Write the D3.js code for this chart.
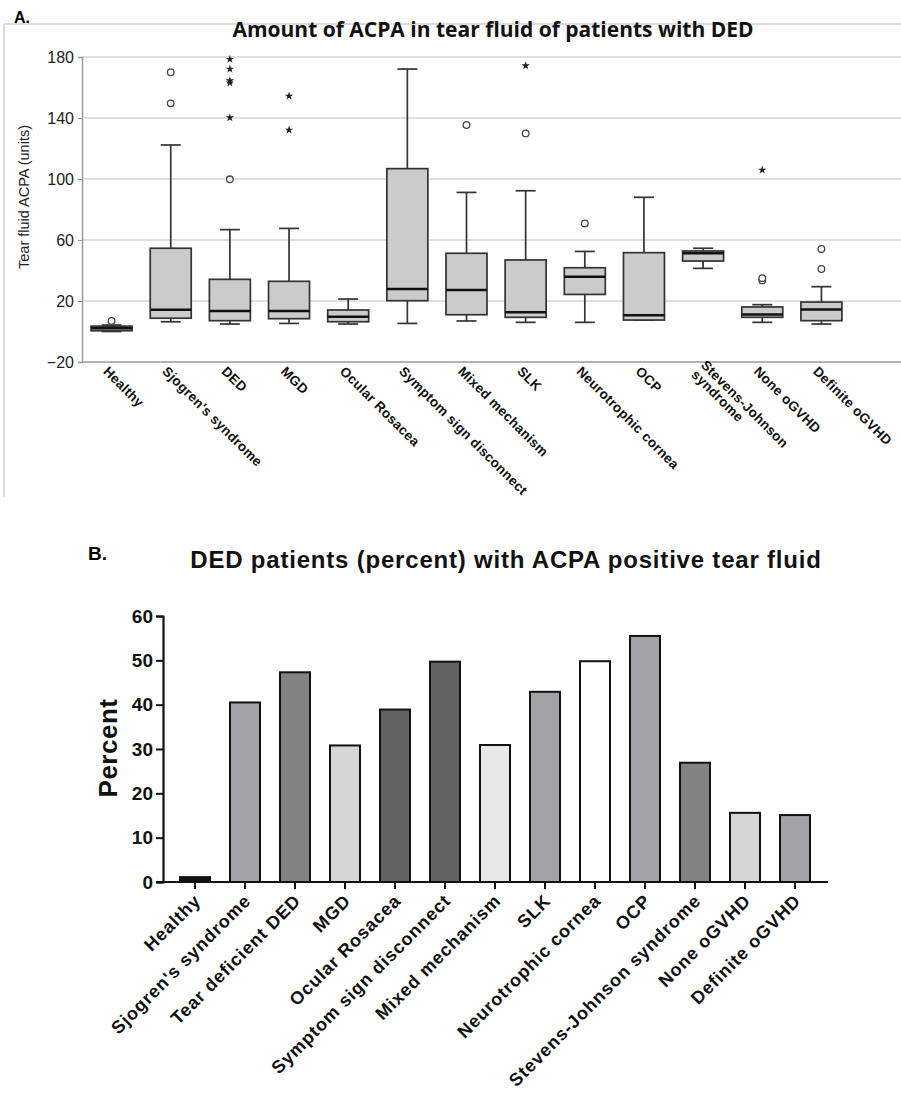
<!DOCTYPE html>
<html><head><meta charset="utf-8">
<script src="https://cdn.jsdelivr.net/npm/d3@7"></script>
<style>body{margin:0;background:#fff}svg{display:block}</style>
</head><body>
<script>
// ---------- Panel A data ----------
const catsA = ["Healthy","Sjogren's syndrome","DED","MGD","Ocular Rosacea","Symptom sign disconnect","Mixed mechanism","SLK","Neurotrophic cornea","OCP","Stevens-Johnson syndrome","None oGVHD","Definite oGVHD"];
const whiskerLowA  = [0,   6.4, 4.9, 5.3, 4.9, 5.3,  6.9, 6.0, 6.0, 7.5, 41.4, 6.0, 4.9];
const q1A          = [0.5, 8.7, 7.1, 8.4, 6.4, 20.2, 11.0, 9.3, 24.3, 7.5, 46.2, 9.3, 7.1];
const medianA      = [2.2, 14.3, 13.4, 13.4, 9.7, 27.9, 27.2, 12.6, 35.9, 10.6, 51.3, 11.2, 14.5];
const q3A          = [3.5, 54.6, 34.2, 32.9, 14.1, 106.8, 51.3, 46.9, 41.8, 51.7, 52.8, 16.1, 19.3];
const whiskerHighA = [4.2, 122.3, 66.8, 67.6, 21.3, 172.1, 91.2, 92.3, 52.5, 88.0, 54.6, 17.6, 29.4];
const outliersA = [[6.9],[149.6,170],[99.8],[],[],[],[135.4],[129.9],[70.9],[],[],[33.5,35],[41,54.1]];
const extremesA = [[],[],[140.2,163,164.5,172.1,178.5],[132.1,154.4],[],[],[],[174.3],[],[],[],[105.9],[]];
const ticksA = [-20,20,60,100,140,180];

// ---------- Panel B data ----------
const catsB = ["Healthy","Sjogren's syndrome","Tear deficient DED","MGD","Ocular Rosacea","Symptom sign disconnect","Mixed mechanism","SLK","Neurotrophic cornea","OCP","Stevens-Johnson syndrome","None oGVHD","Definite oGVHD"];
const percentB = [1.1, 40.5, 47.3, 30.8, 38.9, 49.7, 30.9, 42.9, 49.8, 55.5, 26.9, 15.6, 15.1];
const fillsB = ["#111111","#a2a2a6","#828282","#d6d6d6","#626262","#626262","#e8e8e8","#a2a2a6","#ffffff","#a2a2a6","#828282","#d6d6d6","#a2a2a6"];
const ticksB = [0,10,20,30,40,50,60];

const W = 901, H = 1097;
const svg = d3.select("body").append("svg").attr("width", W).attr("height", H);
const font = "'Liberation Sans', Arial, sans-serif";

// ===== Panel A =====
const gA = svg.append("g");
gA.append("line").attr("x1",4).attr("x2",W).attr("y1",24).attr("y2",24).attr("stroke","#d0d0d0").attr("stroke-width",1.5);
gA.append("line").attr("x1",4).attr("x2",4).attr("y1",24).attr("y2",497).attr("stroke","#d0d0d0").attr("stroke-width",1.5);
gA.append("text").attr("x",14).attr("y",23).attr("font-family",font).attr("font-weight","bold").attr("font-size",16).text("A.");
gA.append("text").attr("x",493).attr("y",37).attr("text-anchor","middle").attr("font-family","'Open Sans', sans-serif").attr("font-weight",700).attr("font-size",21).attr("fill","#111").text("Amount of ACPA in tear fluid of patients with DED");

const xA = d3.scaleBand().domain(catsA).range([82, 851]).paddingInner(0.3).paddingOuter(0.15);
const yA = d3.scaleLinear().domain([-20,180]).range([362,57]);
const bwA = 41;

// gridlines
gA.selectAll(".grid").data(ticksA.filter(t=>t>-20)).enter().append("line")
  .attr("x1",82).attr("x2",W).attr("y1",d=>yA(d)).attr("y2",d=>yA(d))
  .attr("stroke","#d6d6d6").attr("stroke-width",1.5);
// axes
gA.append("line").attr("x1",82).attr("x2",W).attr("y1",yA(-20)).attr("y2",yA(-20)).attr("stroke","#9a9a9a").attr("stroke-width",1.5);
const axA = d3.axisLeft(yA).tickValues(ticksA).tickSize(4).tickPadding(4).tickFormat(d3.format("d"));
const gAx = gA.append("g").attr("transform","translate(82,0)").call(axA);
gAx.select(".domain").attr("stroke","#9a9a9a").attr("stroke-width",1.5);
gAx.selectAll(".tick line").attr("stroke","#9a9a9a");
gAx.selectAll("text").attr("font-family",font).attr("font-size",16).attr("fill","#222");
gA.append("text").attr("transform","translate(29,197) rotate(-90)").attr("text-anchor","middle")
  .attr("font-family",font).attr("font-size",14.5).attr("fill","#222").text("Tear fluid ACPA (units)");

// boxes
const boxes = gA.selectAll(".box").data(catsA).enter().append("g");
const cx = d => xA(d) + xA.bandwidth()/2;
boxes.each(function(d,i){
  const g = d3.select(this), c = cx(d);
  const stroke = "#333";
  g.append("line").attr("x1",c).attr("x2",c).attr("y1",yA(q3A[i])).attr("y2",yA(whiskerHighA[i])).attr("stroke",stroke).attr("stroke-width",1.7);
  g.append("line").attr("x1",c).attr("x2",c).attr("y1",yA(q1A[i])).attr("y2",yA(whiskerLowA[i])).attr("stroke",stroke).attr("stroke-width",1.7);
  g.append("line").attr("x1",c-10).attr("x2",c+10).attr("y1",yA(whiskerHighA[i])).attr("y2",yA(whiskerHighA[i])).attr("stroke",stroke).attr("stroke-width",1.7);
  g.append("line").attr("x1",c-10).attr("x2",c+10).attr("y1",yA(whiskerLowA[i])).attr("y2",yA(whiskerLowA[i])).attr("stroke",stroke).attr("stroke-width",1.7);
  g.append("rect").attr("x",c-bwA/2).attr("width",bwA).attr("y",yA(q3A[i])).attr("height",Math.max(1,yA(q1A[i])-yA(q3A[i])))
    .attr("fill","#cbcbcb").attr("stroke",stroke).attr("stroke-width",1.7);
  g.append("line").attr("x1",c-bwA/2).attr("x2",c+bwA/2).attr("y1",yA(medianA[i])).attr("y2",yA(medianA[i])).attr("stroke","#111").attr("stroke-width",2.5);
  outliersA[i].forEach(v=>{
    g.append("circle").attr("cx",c).attr("cy",yA(v)).attr("r",3.3).attr("fill","#fff").attr("stroke","#444").attr("stroke-width",1.3);
  });
  extremesA[i].forEach(v=>{
    g.append("path").attr("d",d3.symbol().type(d3.symbolStar).size(22)()).attr("transform",`translate(${c},${yA(v)})`).attr("fill","#222");
  });
});

// x labels A
const labA = gA.selectAll(".labA").data(catsA).enter().append("text")
  .attr("transform",d=>`translate(${cx(d)-2},365) rotate(45)`)
  .attr("font-family",font).attr("font-weight","bold").attr("font-size",13.5).attr("letter-spacing","0.3px").attr("fill","#111");
labA.each(function(d){
  const t = d3.select(this);
  if (d === "Stevens-Johnson syndrome") {
    t.append("tspan").attr("x",0).attr("dy","0.1em").text("Stevens-Johnson");
    t.append("tspan").attr("x",0).attr("dy","1.0em").text("syndrome");
  } else {
    t.append("tspan").attr("x",0).attr("dy","0.75em").text(d);
  }
});

// ===== Panel B =====
const gB = svg.append("g");
gB.append("text").attr("x",88).attr("y",560).attr("font-family",font).attr("font-weight","bold").attr("font-size",19).text("B.");
gB.append("text").attr("x",506).attr("y",568).attr("text-anchor","middle").attr("font-family",font).attr("font-weight","bold").attr("font-size",24).attr("letter-spacing","0.8px").attr("fill","#111")
  .text("DED patients (percent) with ACPA positive tear fluid");

const xB = d3.scaleBand().domain(catsB).range([170, 820]).paddingInner(0.4).paddingOuter(0.2);
const yB = d3.scaleLinear().domain([0,60]).range([882,616]);

gB.selectAll(".bar").data(catsB).enter().append("rect")
  .attr("x",d=>xB(d)).attr("width",xB.bandwidth())
  .attr("y",(d,i)=>yB(percentB[i])).attr("height",(d,i)=>yB(0)-yB(percentB[i]))
  .attr("fill",(d,i)=>fillsB[i]).attr("stroke","#111").attr("stroke-width",2);

const ayB = gB.append("g").attr("transform","translate(163,0)").call(d3.axisLeft(yB).tickValues(ticksB).tickSize(7).tickPadding(3));
ayB.select(".domain").attr("stroke","#111").attr("stroke-width",2.2);
ayB.selectAll(".tick line").attr("stroke","#111").attr("stroke-width",2);
ayB.selectAll("text").attr("font-family",font).attr("font-weight","bold").attr("font-size",19).attr("fill","#111");

const axB = gB.append("g").attr("transform","translate(0,882)").call(d3.axisBottom(xB).tickSize(7).tickFormat(""));
axB.select(".domain").attr("d","M156,0H828").attr("stroke","#111").attr("stroke-width",2.2);
axB.selectAll(".tick line").attr("stroke","#111").attr("stroke-width",2);

gB.selectAll(".labB").data(catsB).enter().append("text")
  .attr("transform",d=>`translate(${xB(d)+xB.bandwidth()/2-2},893) rotate(-45)`)
  .attr("text-anchor","end").attr("dy","0.7em")
  .attr("font-family",font).attr("font-weight","bold").attr("font-size",18).attr("letter-spacing","0.9px").attr("fill","#111").text(d=>d);

gB.append("text").attr("transform","translate(117,748) rotate(-90)").attr("text-anchor","middle")
  .attr("font-family",font).attr("font-weight","bold").attr("font-size",26).attr("letter-spacing","0.5px").attr("fill","#111").text("Percent");
</script>
</body></html>
